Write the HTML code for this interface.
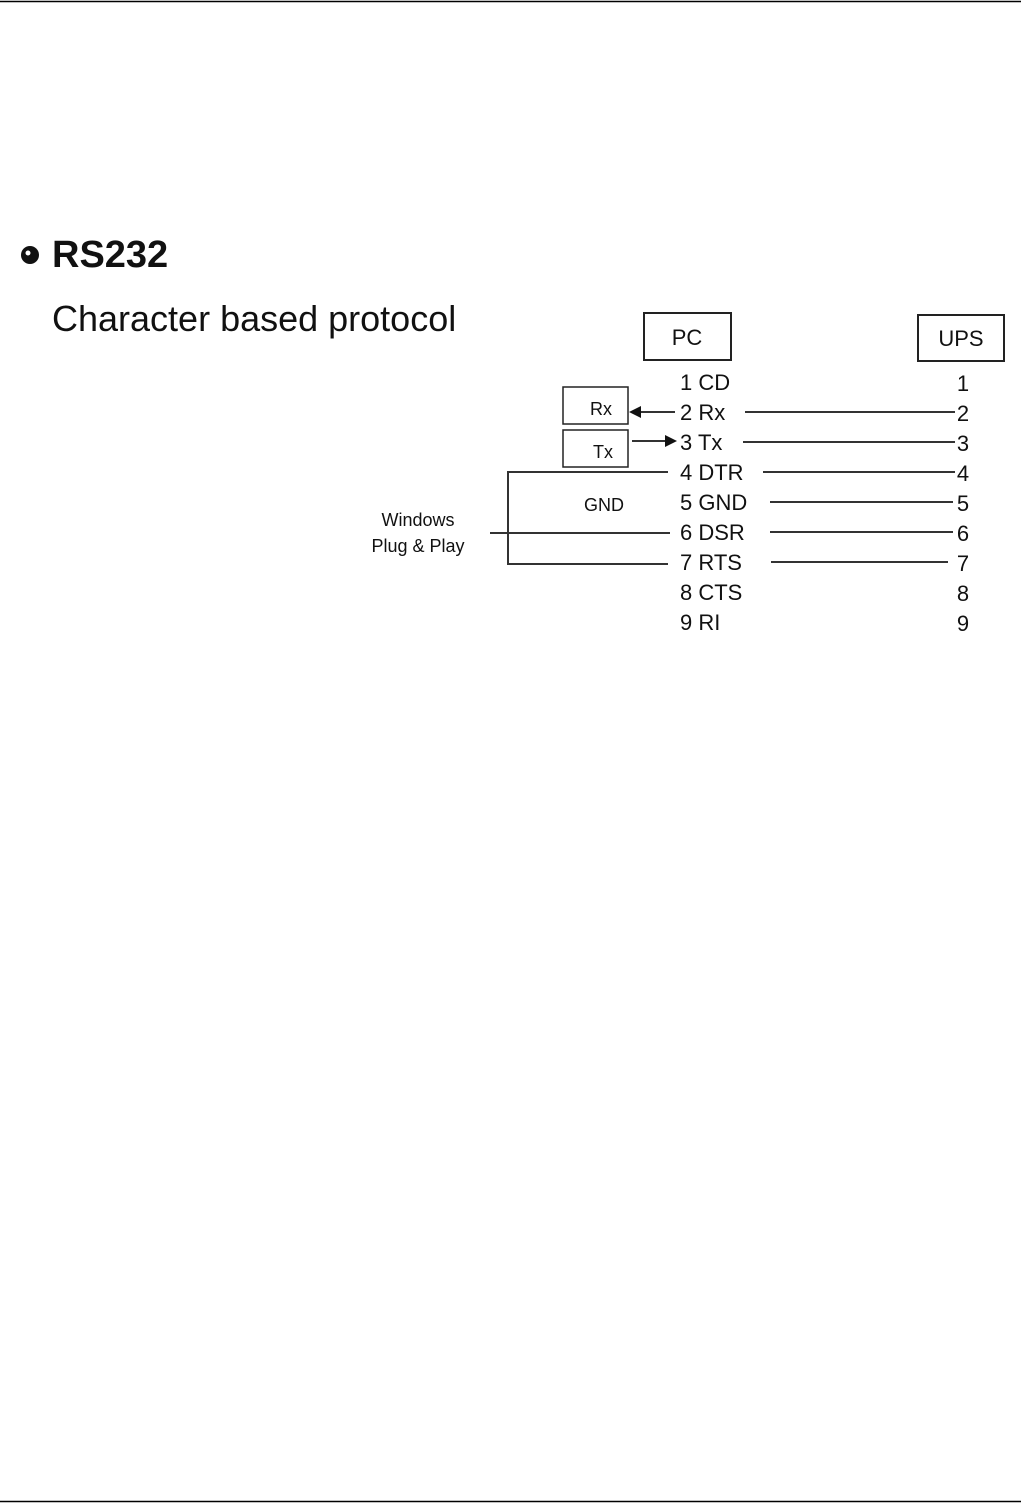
<!DOCTYPE html>
<html><head><style>
html,body{margin:0;padding:0;background:#fff;}
svg{display:block;}
text{font-family:"Liberation Sans",sans-serif;fill:#111;}
</style></head><body>
<svg width="1021" height="1504" viewBox="0 0 1021 1504" xmlns="http://www.w3.org/2000/svg">
<line x1="0" y1="1.5" x2="1021" y2="1.5" stroke="#000" stroke-width="1.5"/>
<line x1="0" y1="1501.5" x2="1021" y2="1501.5" stroke="#000" stroke-width="1.5"/>
<circle cx="30" cy="255" r="9" fill="#111"/>
<circle cx="28" cy="253" r="2.5" fill="#fff"/>
<text x="52" y="267" font-size="38" font-weight="bold">RS232</text>
<text x="52" y="331" font-size="36">Character based protocol</text>
<g fill="none" stroke="#222" stroke-width="2">
<rect x="644" y="313" width="87" height="47"/>
<rect x="918" y="315" width="86" height="46"/>
<rect x="563" y="387" width="65" height="37" stroke-width="1.5"/>
<rect x="563" y="430" width="65" height="37" stroke-width="1.5"/>
</g>
<text x="687" y="345" font-size="22" text-anchor="middle">PC</text>
<text x="961" y="346" font-size="22" text-anchor="middle">UPS</text>
<text x="601" y="415" font-size="18" text-anchor="middle">Rx</text>
<text x="603" y="458" font-size="18" text-anchor="middle">Tx</text>
<text x="604" y="511" font-size="18" text-anchor="middle">GND</text>
<text x="418" y="526" font-size="18" text-anchor="middle">Windows</text>
<text x="418" y="552" font-size="18" text-anchor="middle">Plug &amp; Play</text>
<g font-size="22">
<text x="680" y="390">1 CD</text>
<text x="680" y="420">2 Rx</text>
<text x="680" y="450">3 Tx</text>
<text x="680" y="480">4 DTR</text>
<text x="680" y="510">5 GND</text>
<text x="680" y="540">6 DSR</text>
<text x="680" y="570">7 RTS</text>
<text x="680" y="600">8 CTS</text>
<text x="680" y="630">9 RI</text>
</g>
<g font-size="22" text-anchor="middle">
<text x="963" y="391">1</text>
<text x="963" y="421">2</text>
<text x="963" y="451">3</text>
<text x="963" y="481">4</text>
<text x="963" y="511">5</text>
<text x="963" y="541">6</text>
<text x="963" y="571">7</text>
<text x="963" y="601">8</text>
<text x="963" y="631">9</text>
</g>
<g stroke="#333" stroke-width="2" fill="none">
<line x1="745" y1="412" x2="955" y2="412"/>
<line x1="743" y1="442" x2="955" y2="442"/>
<line x1="763" y1="472" x2="955" y2="472"/>
<line x1="770" y1="502" x2="953" y2="502"/>
<line x1="770" y1="532" x2="953" y2="532"/>
<line x1="771" y1="562" x2="948" y2="562"/>
<polyline points="668,472 508,472 508,564 668,564"/>
<line x1="490" y1="533" x2="670" y2="533"/>
<line x1="640" y1="412" x2="675" y2="412"/>
<line x1="632" y1="441" x2="666" y2="441"/>
</g>
<polygon points="629,412 641,406 641,418" fill="#111"/>
<polygon points="677,441 665,435 665,447" fill="#111"/>
</svg>
</body></html>
